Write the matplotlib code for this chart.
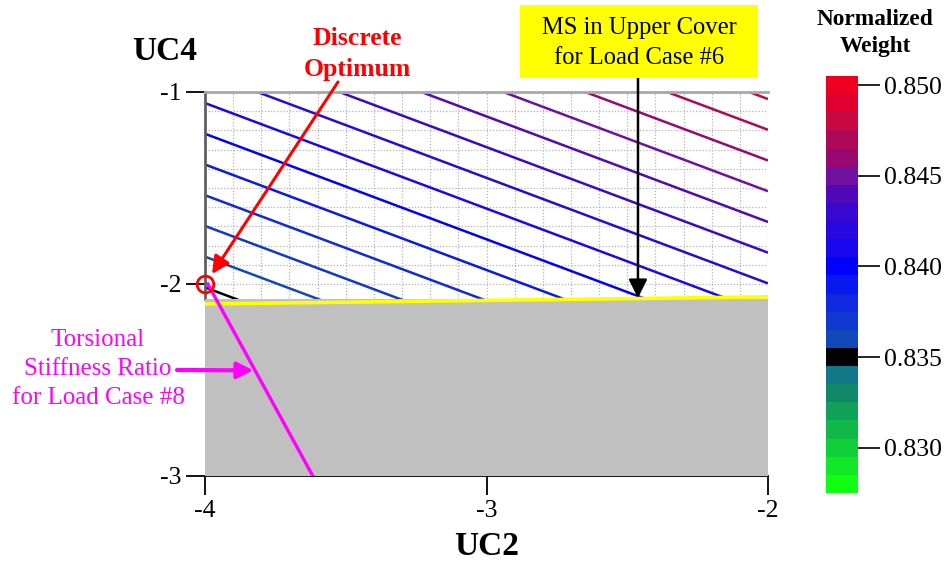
import numpy as np
import matplotlib
matplotlib.use("Agg")
import matplotlib.pyplot as plt
from matplotlib.colors import ListedColormap, BoundaryNorm
from matplotlib.cm import ScalarMappable
from matplotlib.ticker import MultipleLocator
from matplotlib.patches import Rectangle

plt.rcParams['font.family'] = ['Liberation Serif', 'DejaVu Serif']

# ---- data ----
uc2_corners = [-4.0, -2.0]
uc4_corners = [-3.0, -1.0]
# normalized weight at the corners (rows: UC4=-3, UC4=-1; cols: UC2=-4, UC2=-2)
weight_corners = [[0.82886, 0.83573],
                  [0.84136, 0.84823]]
levels = [0.828, 0.829, 0.830, 0.831, 0.832, 0.833, 0.834, 0.835, 0.836, 0.837,
          0.838, 0.839, 0.840, 0.841, 0.842, 0.843, 0.844, 0.845, 0.846, 0.847,
          0.848, 0.849, 0.850]
level_colors = ['#10ff10', '#10e828', '#10d038', '#10b848', '#10a058', '#108868',
                '#107888', '#000000', '#1048b8', '#1038d0', '#1028e0', '#0818f0',
                '#0000ff', '#1808f0', '#2808e0', '#3808d0', '#5008b8', '#7010a0',
                '#980870', '#b00858', '#c80840', '#e00030', '#f00020']
cbar_ticks = [0.830, 0.835, 0.840, 0.845, 0.850]
xticks = [-4, -3, -2]
yticks = [-3, -2, -1]
infeasible_top = -2.077            # top of grey infeasible region
ms_x = [-4.0, -2.0]                # MS in upper cover constraint (yellow)
ms_y = [-2.104, -2.067]
torsion_x = [-3.99, -3.617]        # torsional stiffness ratio constraint (magenta)
torsion_y = [-2.0, -3.0]
optimum = (-4.0, -2.0)

W, H = 950, 564
fig = plt.figure(figsize=(W / 100, H / 100), dpi=100)

def fx(px):
    return px / W

def fy(py):
    return 1 - py / H

ax = fig.add_axes([fx(205), fy(476), fx(768) - fx(205), fy(92) - fy(476)])

X, Y = np.meshgrid(uc2_corners, uc4_corners)
Z = np.array(weight_corners)
ax.contour(X, Y, Z, levels=levels, colors=level_colors, linewidths=1.8, zorder=2)

ax.fill_between(uc2_corners, [uc4_corners[0]] * 2, [infeasible_top] * 2,
                color='#c0c0c0', zorder=3, lw=0)
ax.plot(ms_x, ms_y, color='#ffff00', lw=2.6, zorder=4, solid_capstyle='butt')
ax.plot(torsion_x, torsion_y, color='#ff00ff', lw=2.4, zorder=5)
ax.plot(*optimum, 'o', mfc='none', mec='#ff0000', ms=12, mew=2, zorder=6,
        clip_on=False)

ax.set_xlim(-4, -2)
ax.set_ylim(-3, -1)
ax.set_xticks(xticks)
ax.set_yticks(yticks)
ax.set_xticklabels([str(v) for v in xticks], fontsize=18.5)
ax.set_yticklabels([str(v) for v in yticks], fontsize=18.5)
ax.xaxis.set_minor_locator(MultipleLocator(0.1))
ax.yaxis.set_minor_locator(MultipleLocator(0.1))
ax.tick_params(which='minor', length=0)
ax.tick_params(which='major', length=14, width=1.3, color='black', pad=3)
ax.set_axisbelow(True)
ax.grid(which='both', ls=(0, (1, 1.5)), color='#b4b4b4', lw=0.9, zorder=0)

ax.spines['right'].set_visible(False)
ax.spines['top'].set_color('#a8a8a8')
ax.spines['top'].set_linewidth(2)
ax.spines['left'].set_color('#606060')
ax.spines['left'].set_linewidth(2)
ax.spines['left'].set_bounds(infeasible_top, -1)
ax.spines['bottom'].set_color('black')
ax.spines['bottom'].set_linewidth(1.3)

ax.set_xlabel('UC2', fontsize=24, fontweight='bold', labelpad=7)
fig.text(fx(165), fy(52), 'UC4', fontsize=24, fontweight='bold',
         ha='center', va='center')

# annotations
fig.text(fx(357), fy(54), 'Discrete\nOptimum', color='#ff0000', fontsize=18.5,
         fontweight='bold', ha='center', va='center', linespacing=1.42)
ax.annotate('', xy=(-3.975, -1.948), xytext=(fx(338), fy(82)),
            textcoords='figure fraction',
            arrowprops=dict(arrowstyle='-|>', color='#ff0000', lw=2.2,
                            mutation_scale=26, shrinkA=0, shrinkB=0),
            annotation_clip=False, zorder=7)

fig.patches.append(Rectangle((fx(520), fy(78)), fx(758) - fx(520), fy(5) - fy(78),
                             transform=fig.transFigure, fc='#ffff00', ec='none',
                             zorder=1))
fig.text(fx(639), fy(43), 'MS in Upper Cover\nfor Load Case #6', color='black',
         fontsize=17.7, ha='center', va='center', linespacing=1.5, zorder=2)
ax.annotate('', xy=(-2.462, -2.073), xytext=(fx(638), fy(78)),
            textcoords='figure fraction',
            arrowprops=dict(arrowstyle='-|>', color='black', lw=1.8,
                            mutation_scale=28, shrinkA=0, shrinkB=0),
            annotation_clip=False, zorder=7)

fig.text(fx(98), fy(369), 'Torsional\nStiffness Ratio\nfor Load Case #8',
         color='#ff00ff', fontsize=18, ha='center', va='center', linespacing=1.4)
ax.annotate('', xy=(-3.828, -2.45), xytext=(fx(177), fy(370)),
            textcoords='figure fraction',
            arrowprops=dict(arrowstyle='-|>', color='#ff00ff', lw=3,
                            mutation_scale=24, shrinkA=0, shrinkB=0),
            annotation_clip=False, zorder=7)

# colorbar
cax = fig.add_axes([fx(826), fy(493), fx(858) - fx(826), fy(76) - fy(493)])
bounds = [levels[0] - 0.0005] + [v + 0.0005 for v in levels]
cmap = ListedColormap(level_colors)
norm = BoundaryNorm(bounds, cmap.N)
cb = fig.colorbar(ScalarMappable(norm=norm, cmap=cmap), cax=cax, ticks=cbar_ticks)
cb.outline.set_visible(False)
cb.ax.set_yticklabels([f'{v:.3f}' for v in cbar_ticks], fontsize=18.5)
cb.ax.tick_params(length=16, width=1.2, color='black', pad=3)
cb.ax.minorticks_off()
fig.text(fx(875), fy(33), 'Normalized\nWeight', fontsize=16.8, fontweight='bold',
         ha='center', va='center', linespacing=1.38)

fig.savefig('out.png', dpi=100)
